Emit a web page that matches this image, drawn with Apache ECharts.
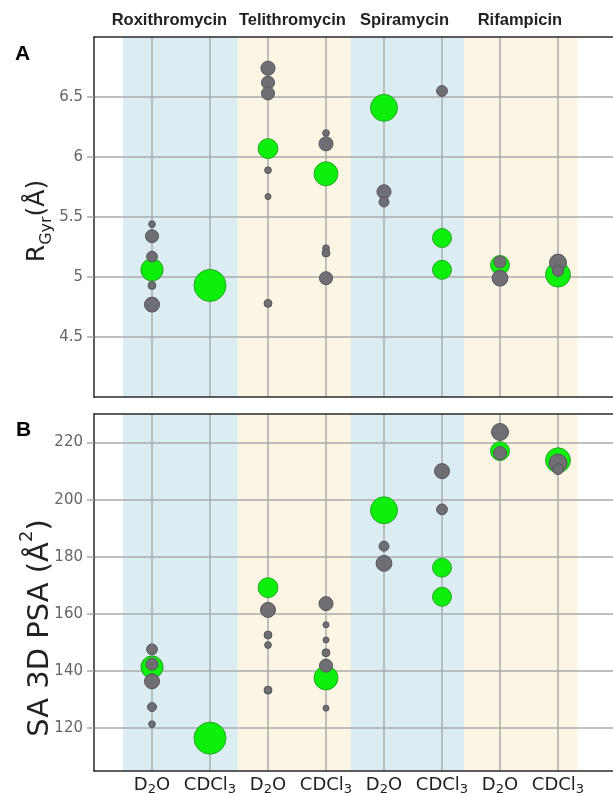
<!DOCTYPE html>
<html><head><meta charset="utf-8">
<script src="https://cdn.jsdelivr.net/npm/echarts@6/dist/echarts.min.js"></script>
<style>html,body{margin:0;padding:0;background:#fff}#c{width:613px;height:794px}</style>
</head><body><div id="c"></div>
<script>
// ---- data ----
const categories = ['D_2O', 'CDCl_3', 'D_2O', 'CDCl_3', 'D_2O', 'CDCl_3', 'D_2O', 'CDCl_3'];
const drugs = ['Roxithromycin', 'Telithromycin', 'Spiramycin', 'Rifampicin'];
const rgyrTicks = [4.5, 5, 5.5, 6, 6.5];
const psaTicks = [120, 140, 160, 180, 200, 220];
const columnTicks = [0, 1, 2, 3, 4, 5, 6, 7];

// [column index, value, relative population]
const rgyrMinor = [
  [0, 5.44, 5], [0, 5.34, 19], [0, 5.17, 13], [0, 4.93, 7], [0, 4.77, 25],
  [2, 6.74, 22], [2, 6.62, 19], [2, 6.53, 19], [2, 5.89, 5], [2, 5.67, 4], [2, 4.78, 7],
  [3, 6.20, 5], [3, 6.11, 22], [3, 5.24, 5], [3, 5.20, 7], [3, 4.99, 19],
  [4, 5.71, 22], [4, 5.625, 11],
  [5, 6.55, 13],
  [6, 5.125, 16], [6, 4.99, 28],
  [7, 5.12, 32], [7, 5.05, 13]
];
const rgyrMajor = [
  [0, 5.06, 54], [1, 4.93, 114], [2, 6.07, 44], [3, 5.86, 64], [4, 6.41, 81],
  [5, 5.325, 40], [5, 5.06, 40], [6, 5.10, 40], [7, 5.02, 69]
];
const psaMinor = [
  [0, 147.6, 13], [0, 142.4, 16], [0, 136.4, 25], [0, 127.4, 9], [0, 121.4, 5],
  [2, 161.4, 25], [2, 152.6, 7], [2, 149.1, 5], [2, 133.3, 7],
  [3, 163.6, 22], [3, 156.2, 4], [3, 150.9, 4], [3, 146.4, 7], [3, 141.9, 19], [3, 127.0, 4],
  [4, 183.7, 11], [4, 177.7, 28],
  [5, 210.0, 25], [5, 196.6, 13],
  [6, 223.7, 32], [6, 216.3, 19],
  [7, 212.8, 36], [7, 210.7, 13]
];
const psaMajor = [
  [0, 141.4, 54], [1, 116.5, 114], [2, 169.2, 44], [3, 137.6, 64], [4, 196.3, 81],
  [5, 176.2, 40], [5, 166.0, 40], [6, 217.0, 40], [7, 213.8, 69]
];

// ---- styling / layout ----
const bandEdges = [-0.5, 1.48, 3.43, 5.38, 7.34];
const bandColors = ['#dbedf3', '#fdf5e3', '#dbedf3', '#fdf5e3'];
const headerOffsets = [-11, -2, -3, -1];
const gridCol = '#ababab';
const axisCol = '#2a2a2a';
const sizeOf = d => 3 * Math.sqrt(d[2]);
const subRich = s => '{m|' + s.replace(/_(\d)/, '}{s|$1}{m|') + '}';

function bands(withLabels) {
  return drugs.map((name, i) => [
    {
      name: name, xAxis: bandEdges[i], itemStyle: { color: bandColors[i] },
      label: { show: withLabels, offset: [headerOffsets[i], 0] }
    },
    { xAxis: bandEdges[i + 1] }
  ]);
}

function xAxes(gridIndex, showLabels) {
  return [{
    type: 'value', gridIndex, min: -1, max: 9, z: 2,
    axisLine: { show: true, onZero: false, lineStyle: { color: axisCol, width: 1.5 } },
    axisTick: { show: false, customValues: columnTicks },
    splitLine: { show: true, lineStyle: { color: gridCol, width: 1.5 } },
    axisLabel: {
      show: showLabels, customValues: columnTicks, margin: 3,
      formatter: v => subRich(categories[v]),
      rich: {
        m: { fontFamily: 'DejaVu Sans', fontSize: 18, color: '#222', lineHeight: 22, verticalAlign: 'middle' },
        s: { fontFamily: 'DejaVu Sans', fontSize: 13, color: '#222', lineHeight: 22, verticalAlign: 'bottom' }
      }
    }
  }, {
    type: 'value', gridIndex, min: -1, max: 9, position: 'top', z: 2,
    axisLine: { show: true, onZero: false, lineStyle: { color: axisCol, width: 1.5 } },
    axisTick: { show: false }, axisLabel: { show: false }, splitLine: { show: false }
  }];
}

function yAxis(gridIndex, min, max, ticks) {
  return {
    type: 'value', gridIndex, min, max, z: 2,
    axisLine: { show: true, onZero: false, lineStyle: { color: axisCol, width: 1.5 } },
    axisTick: { show: true, length: 7, customValues: ticks, lineStyle: { color: gridCol, width: 1.5 } },
    splitLine: { show: true, lineStyle: { color: gridCol, width: 1.5 } },
    axisLabel: { customValues: ticks, color: '#666', fontFamily: 'DejaVu Sans', fontSize: 15, margin: 11 }
  };
}

function scatter(data, xi, yi, fill, border, z) {
  return {
    type: 'scatter', data, xAxisIndex: xi, yAxisIndex: yi, z,
    symbolSize: sizeOf,
    itemStyle: { color: fill, borderColor: border, borderWidth: 1, opacity: 1 },
    emphasis: { disabled: true }, silent: true
  };
}

const green = ['#0cf00c', '#2aa52a'];
const gray = ['#6f6f73', '#55555a'];

const option = {
  animation: false,
  grid: [
    { left: 94, top: 37, width: 580, height: 360, outerBoundsMode: 'none' },
    { left: 94, top: 414, width: 580, height: 357, outerBoundsMode: 'none' }
  ],
  xAxis: [...xAxes(0, false), ...xAxes(1, true)],
  yAxis: [yAxis(0, 4, 7, rgyrTicks), yAxis(1, 105, 230, psaTicks)],
  series: [
    {
      type: 'scatter', data: [], xAxisIndex: 0, yAxisIndex: 0,
      markArea: {
        silent: true, z: 1,
        label: { position: 'top', distance: 8, fontFamily: 'Liberation Sans', fontWeight: 'bold', fontSize: 16.5, color: '#222' },
        data: bands(true)
      }
    },
    {
      type: 'scatter', data: [], xAxisIndex: 2, yAxisIndex: 1,
      markArea: { silent: true, z: 1, label: { show: false }, data: bands(false) }
    },
    scatter(rgyrMajor, 0, 0, green[0], green[1], 3),
    scatter(rgyrMinor, 0, 0, gray[0], gray[1], 4),
    scatter(psaMajor, 2, 1, green[0], green[1], 3),
    scatter(psaMinor, 2, 1, gray[0], gray[1], 4)
  ],
  graphic: [
    { type: 'text', left: 15, top: 44, style: { text: 'A', font: 'bold 21px "Liberation Sans"', fill: '#000' } },
    { type: 'text', left: 16, top: 420, style: { text: 'B', font: 'bold 21px "Liberation Sans"', fill: '#000' } },
    {
      type: 'text', x: 37, y: 221, rotation: Math.PI / 2,
      style: {
        text: '{m|R}{s|Gyr}{m|(Å)}', align: 'center', verticalAlign: 'middle',
        rich: {
          m: { fontFamily: 'DejaVu Sans', fontSize: 25, lineHeight: 36, verticalAlign: 'middle', fill: '#222' },
          s: { fontFamily: 'DejaVu Sans', fontSize: 16, lineHeight: 36, verticalAlign: 'bottom', fill: '#222' }
        }
      }
    },
    {
      type: 'text', x: 40, y: 628, rotation: Math.PI / 2,
      style: {
        text: '{m|SA 3D PSA (Å}{p|2}{m|)}', align: 'center', verticalAlign: 'middle',
        rich: {
          m: { fontFamily: 'DejaVu Sans', fontSize: 29, lineHeight: 44, verticalAlign: 'middle', fill: '#222' },
          p: { fontFamily: 'DejaVu Sans', fontSize: 18, lineHeight: 44, verticalAlign: 'top', fill: '#222' }
        }
      }
    }
  ]
};

const chart = echarts.init(document.getElementById('c'), null, { renderer: 'canvas' });
chart.setOption(option);
</script>
</body></html>
